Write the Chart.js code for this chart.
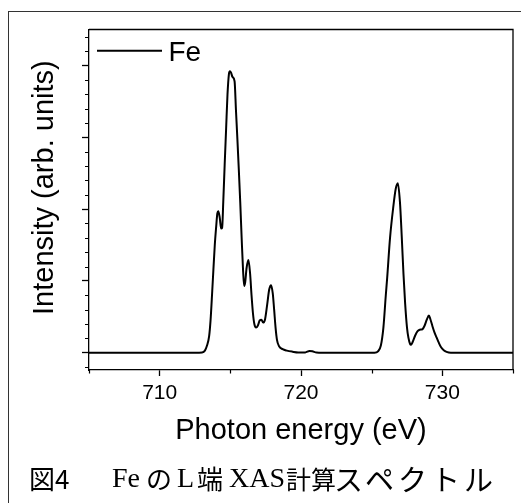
<!DOCTYPE html>
<html>
<head>
<meta charset="utf-8">
<script src="https://cdn.jsdelivr.net/npm/chart.js@4.4.1/dist/chart.umd.min.js"></script>
<style>
  html, body { margin: 0; padding: 0; background: #fff; overflow: hidden; }
  #frame { position: absolute; left: 8px; top: 11px; width: 700px; height: 700px;
           border-left: 1.5px solid #333; border-top: 1.5px solid #333; }
  #wrap { position: absolute; left: 0; top: 0; width: 521px; height: 503px; }
  #cap { position: absolute; left: 0; top: 461px; width: 521px; height: 34px; color: #000; }
  #cap span { position: absolute; top: 0; line-height: 34px; white-space: nowrap; }
  #cap .g { font-family: 'Noto Sans CJK JP', sans-serif; font-size: 26px; }
  #cap .s { font-family: 'Liberation Serif', serif; font-size: 28px; }
</style>
</head>
<body>
<div id="frame"></div>
<div id="wrap"><canvas id="c" width="521" height="503"></canvas></div>
<div id="cap"><span class="g" style="left:29px">図4</span><span class="s" style="left:112px">Fe</span><span class="g" style="left:146px">の</span><span class="s" style="left:177px">L</span><span class="g" style="left:197px">端</span><span class="s" style="left:229px">XAS</span><span class="g" style="left:286px;font-size:25px">計算</span><span class="g" style="left:334px;font-size:29px;letter-spacing:4px">スペクトル</span></div>
<script>
// ---- data ----
const seriesLabel = 'Fe';
const energy = [705, 708, 711, 712.5, 713.0, 713.2, 713.35, 713.5, 713.6, 713.72, 713.8, 713.9, 714.0, 714.08, 714.15,
  714.25, 714.35, 714.42, 714.5, 714.6, 714.7, 714.8, 714.9, 714.97, 715.05, 715.15, 715.3, 715.4, 715.5, 715.6,
  715.7, 715.8, 715.9, 715.98, 716.05, 716.15, 716.28, 716.4, 716.5, 716.6, 716.7, 716.82, 716.95, 717.08, 717.2,
  717.32, 717.45, 717.6, 717.75, 717.88, 718.0, 718.1, 718.2, 718.3, 718.45, 718.7, 719.0, 719.4, 719.8, 720.3,
  720.6, 720.8, 721.1, 721.5, 725.2, 725.45, 725.65, 725.83, 726.0, 726.1, 726.3, 726.53, 726.7, 726.85, 727.0,
  727.13, 727.25, 727.37, 727.5, 727.6, 727.72, 727.78, 727.9, 728.08, 728.25, 728.4, 728.6, 728.75, 728.9, 729.05,
  729.15, 729.3, 729.45, 729.6, 729.75, 729.9, 730.1, 730.3, 730.6, 735];
const intensity = [0, 0, 0, 0, 0.005, 0.03, 0.1, 0.23, 0.45, 0.86, 1.15, 1.5, 1.76, 1.94, 1.97,
  1.88, 1.73, 1.74, 2.1, 2.62, 3.11, 3.6, 3.88, 3.92, 3.9, 3.84, 3.78, 3.37, 2.97, 2.55,
  2.1, 1.6, 1.15, 0.93, 0.98, 1.18, 1.29, 1.1, 0.8, 0.55, 0.4, 0.35, 0.38, 0.45, 0.46,
  0.42, 0.46, 0.66, 0.88, 0.94, 0.83, 0.6, 0.35, 0.18, 0.09, 0.05, 0.03, 0.015, 0.005, 0.005,
  0.025, 0.02, 0.003, 0, 0, 0.02, 0.1, 0.35, 0.8, 1.05, 1.6, 2.03, 2.28, 2.36, 2.1,
  1.61, 1.1, 0.68, 0.35, 0.21, 0.12, 0.11, 0.15, 0.24, 0.3, 0.32, 0.33, 0.38, 0.46, 0.52,
  0.47, 0.37, 0.28, 0.21, 0.14, 0.08, 0.035, 0.012, 0, 0];
const xMajorTicks = [710, 720, 730];
const xMinorTicks = [705, 715, 725, 735];
const yMajorTicks = [0, 1, 2, 3, 4];
const yMinorTicks = [-0.2, 0.2, 0.4, 0.6, 0.8, 1.2, 1.4, 1.6, 1.8, 2.2, 2.4, 2.6, 2.8, 3.2, 3.4, 3.6, 3.8, 4.2, 4.4];
const xTitle = 'Photon energy (eV)';
const yTitle = 'Intensity (arb. units)';

Chart.defaults.font.family = "'Liberation Sans', Arial, sans-serif";
Chart.defaults.color = '#000';

const points = energy.map((e, i) => ({ x: e, y: intensity[i] }));
const near = (arr, v) => arr.some(a => Math.abs(a - v) < 1e-6);

const frameAndMinor = {
  id: 'frameAndMinor',
  afterDraw(chart) {
    const { ctx, chartArea: a, scales } = chart;
    ctx.save();
    ctx.strokeStyle = '#000';
    ctx.lineWidth = 1.3;
    ctx.beginPath();
    ctx.moveTo(a.left, a.top); ctx.lineTo(a.right, a.top); ctx.lineTo(a.right, a.bottom);
    ctx.stroke();
    // minor ticks
    ctx.lineWidth = 1.2;
    ctx.beginPath();
    scales.y.ticks.forEach(t => {
      if (near(yMinorTicks, t.value)) {
        const py = Math.round(scales.y.getPixelForValue(t.value)) + 0.5;
        ctx.moveTo(a.left - 4, py); ctx.lineTo(a.left, py);
      }
    });
    scales.x.ticks.forEach(t => {
      if (near(xMinorTicks, t.value)) {
        const px = Math.round(scales.x.getPixelForValue(t.value)) + 0.5;
        ctx.moveTo(px, a.bottom); ctx.lineTo(px, a.bottom + 3.5);
      }
    });
    ctx.stroke();
    // legend
    const ds = chart.data.datasets[0];
    const ly = a.top + 21.2;
    ctx.strokeStyle = ds.borderColor;
    ctx.lineWidth = ds.borderWidth;
    ctx.beginPath();
    ctx.moveTo(a.left + 8, ly); ctx.lineTo(a.left + 73, ly);
    ctx.stroke();
    ctx.fillStyle = '#000';
    ctx.font = "28px 'Liberation Sans', Arial, sans-serif";
    ctx.textBaseline = 'alphabetic';
    ctx.textAlign = 'left';
    ctx.fillText(ds.label, a.left + 79.5, a.top + 31.2);
    ctx.restore();
  }
};

new Chart(document.getElementById('c'), {
  type: 'line',
  data: {
    datasets: [{
      label: seriesLabel,
      data: points,
      borderColor: '#000',
      borderWidth: 2,
      pointRadius: 0,
      fill: false,
      cubicInterpolationMode: 'monotone'
    }]
  },
  options: {
    responsive: false,
    animation: false,
    devicePixelRatio: 1,
    layout: { padding: { left: 0, top: 29.5, right: 8, bottom: 58 } },
    plugins: { legend: { display: false }, tooltip: { enabled: false } },
    scales: {
      x: {
        type: 'linear', min: 705, max: 735,
        afterBuildTicks: s => { s.ticks = xMajorTicks.concat(xMinorTicks).sort((a, b) => a - b).map(v => ({ value: v })); },
        ticks: {
          autoSkip: false, maxRotation: 0, padding: 5,
          font: { size: 21 }, color: '#000',
          callback: v => near(xMajorTicks, v) ? String(v) : ''
        },
        grid: {
          drawOnChartArea: false, tickLength: 6, tickWidth: 1.3,
          tickColor: c => (c.tick && near(xMajorTicks, c.tick.value)) ? '#000' : 'rgba(0,0,0,0)'
        },
        border: { display: true, color: '#000', width: 1.3 },
        title: { display: true, text: xTitle, font: { size: 29, lineHeight: 1 }, padding: { top: 4.8, bottom: 0 }, color: '#000' }
      },
      y: {
        type: 'linear', min: -0.24, max: 4.5,
        afterBuildTicks: s => { s.ticks = yMajorTicks.concat(yMinorTicks).sort((a, b) => a - b).map(v => ({ value: v })); },
        ticks: { display: false },
        grid: {
          drawOnChartArea: false, tickLength: 7, tickWidth: 1.3,
          tickColor: c => (c.tick && near(yMajorTicks, c.tick.value)) ? '#000' : 'rgba(0,0,0,0)'
        },
        border: { display: true, color: '#000', width: 1.3 },
        title: { display: true, text: '\u00a0\u00a0\u00a0' + yTitle, font: { size: 29, lineHeight: 1 }, padding: { top: 30.5, bottom: 22.5 }, color: '#000' }
      }
    }
  },
  plugins: [frameAndMinor]
});
</script>
</body>
</html>
